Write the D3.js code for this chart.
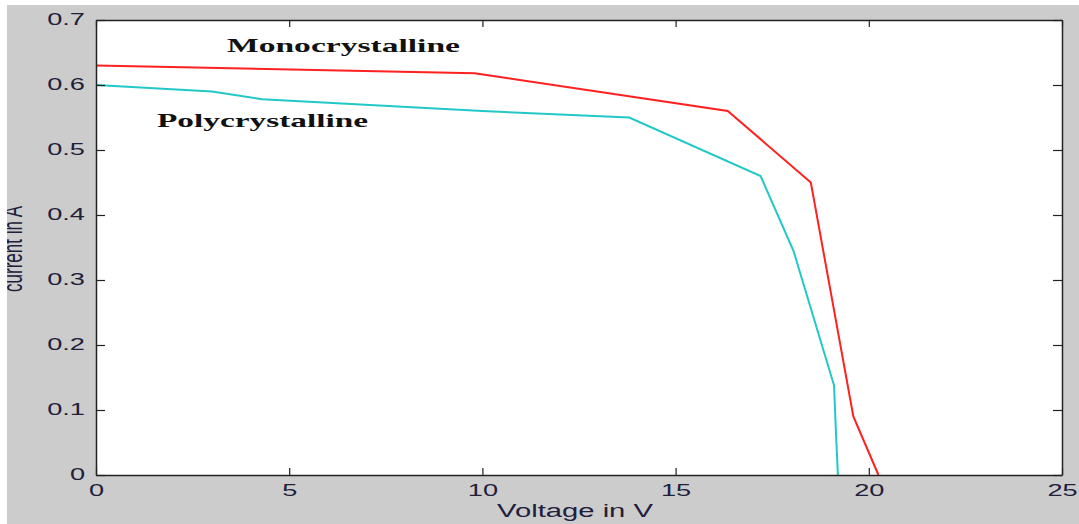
<!DOCTYPE html>
<html>
<head>
<meta charset="utf-8">
<script src="https://cdn.jsdelivr.net/npm/d3@7"></script>
<style>
  body { margin: 0; background: #fff; }
  svg { display: block; }
</style>
</head>
<body>
<div id="chart"></div>
<script>
// I-V curves, values
var monoV = [0, 9.8, 16.35, 18.5, 19.6, 20.25];
var monoI = [0.63, 0.618, 0.56, 0.45, 0.09, 0];
var polyV = [0, 3, 4.3, 10, 13.8, 17.2, 18.05, 19.1, 19.15, 19.2];
var polyI = [0.6, 0.59, 0.578, 0.56, 0.55, 0.46, 0.345, 0.138, 0.065, 0];
var xTicks = [0, 5, 10, 15, 20, 25];
var yTicks = [0, 0.1, 0.2, 0.3, 0.4, 0.5, 0.6, 0.7];

var width = 1079, height = 524;
var plotLeft = 96, plotRight = 1062, plotTop = 20, plotBottom = 475;
var sx = 1.6; // picture is stretched sideways

var svg = d3.select("#chart").append("svg")
    .attr("width", width)
    .attr("height", height);

// gray figure background
svg.append("rect")
    .attr("x", 7).attr("y", 5)
    .attr("width", width - 7).attr("height", height - 5)
    .attr("fill", "#cccccc");

svg.append("rect")
    .attr("x", plotLeft).attr("y", plotTop)
    .attr("width", plotRight - plotLeft).attr("height", plotBottom - plotTop)
    .attr("fill", "#fff");

var xScale = d3.scaleLinear().domain([0, 25]).range([plotLeft, plotRight]);
var yScale = d3.scaleLinear().domain([0, 0.7]).range([plotBottom, plotTop]);

var line = d3.line()
    .x(function(d) { return xScale(d[0]); })
    .y(function(d) { return yScale(d[1]); });

svg.append("path")
    .datum(d3.zip(monoV, monoI))
    .attr("fill", "none")
    .attr("stroke", "#ff2020")
    .attr("stroke-width", 2)
    .attr("d", line);

svg.append("path")
    .datum(d3.zip(polyV, polyI))
    .attr("fill", "none")
    .attr("stroke", "#22c8c8")
    .attr("stroke-width", 2)
    .attr("d", line);

var tickColor = "#20203a";

// bottom axis, ticks pointing in
var xAxis = svg.append("g")
    .attr("transform", "translate(0," + plotBottom + ")")
    .call(d3.axisBottom(xScale).tickValues(xTicks).tickSizeInner(-7).tickSizeOuter(0).tickFormat(d3.format("d")));
xAxis.selectAll("text")
    .attr("y", null)
    .attr("transform", "translate(0,15) scale(" + sx + ",1)")
    .attr("dy", "0.35em");

// left axis
var yAxis = svg.append("g")
    .attr("transform", "translate(" + plotLeft + ",0)")
    .call(d3.axisLeft(yScale).tickValues(yTicks).tickSizeInner(-9).tickSizeOuter(0).tickFormat(function(d) { return d === 0 ? "0" : d3.format(".1f")(d); }));
yAxis.selectAll("text")
    .attr("x", null)
    .attr("transform", "translate(-11,-1) scale(" + sx + ",1)");

// mirrored top and right ticks
svg.append("g")
    .attr("transform", "translate(0," + plotTop + ")")
    .call(d3.axisTop(xScale).tickValues(xTicks).tickSizeInner(-7).tickSizeOuter(0).tickFormat(""));
svg.append("g")
    .attr("transform", "translate(" + plotRight + ",0)")
    .call(d3.axisRight(yScale).tickValues(yTicks).tickSizeInner(-9).tickSizeOuter(0).tickFormat(""));

svg.selectAll(".domain").attr("stroke", "#222").attr("stroke-width", 1.5);
svg.selectAll(".tick line").attr("stroke", "#222").attr("stroke-width", 1.2);
svg.selectAll(".tick text")
    .attr("fill", tickColor)
    .style("font-family", "Arial, 'Liberation Sans', sans-serif")
    .style("font-size", "17px");

// axis titles
svg.append("text")
    .attr("x", 575).attr("y", 517)
    .attr("text-anchor", "middle")
    .attr("textLength", 156)
    .attr("lengthAdjust", "spacingAndGlyphs")
    .attr("fill", tickColor)
    .style("font-family", "Arial, 'Liberation Sans', sans-serif")
    .style("font-size", "18px")
    .text("Voltage in V");

// y title is cut by the left edge of the gray area
svg.append("clipPath").attr("id", "leftclip")
    .append("rect").attr("x", 7).attr("y", 0).attr("width", 100).attr("height", height);

svg.append("g")
    .attr("clip-path", "url(#leftclip)")
  .append("text")
    .attr("transform", "translate(22,249) scale(" + sx + ",1) rotate(-90)")
    .attr("text-anchor", "middle")
    .attr("fill", tickColor)
    .style("font-family", "Arial, 'Liberation Sans', sans-serif")
    .style("font-size", "17px")
    .text("current in A");

// curve labels
svg.append("text")
    .attr("x", 227).attr("y", 52)
    .attr("textLength", 233)
    .attr("lengthAdjust", "spacingAndGlyphs")
    .attr("fill", "#111")
    .style("font-family", "'Liberation Serif', 'Times New Roman', serif")
    .style("font-weight", "bold")
    .style("font-size", "19px")
    .text("Monocrystalline");

svg.append("text")
    .attr("x", 157).attr("y", 127)
    .attr("textLength", 211)
    .attr("lengthAdjust", "spacingAndGlyphs")
    .attr("fill", "#111")
    .style("font-family", "'Liberation Serif', 'Times New Roman', serif")
    .style("font-weight", "bold")
    .style("font-size", "19px")
    .text("Polycrystalline");
</script>
</body>
</html>
